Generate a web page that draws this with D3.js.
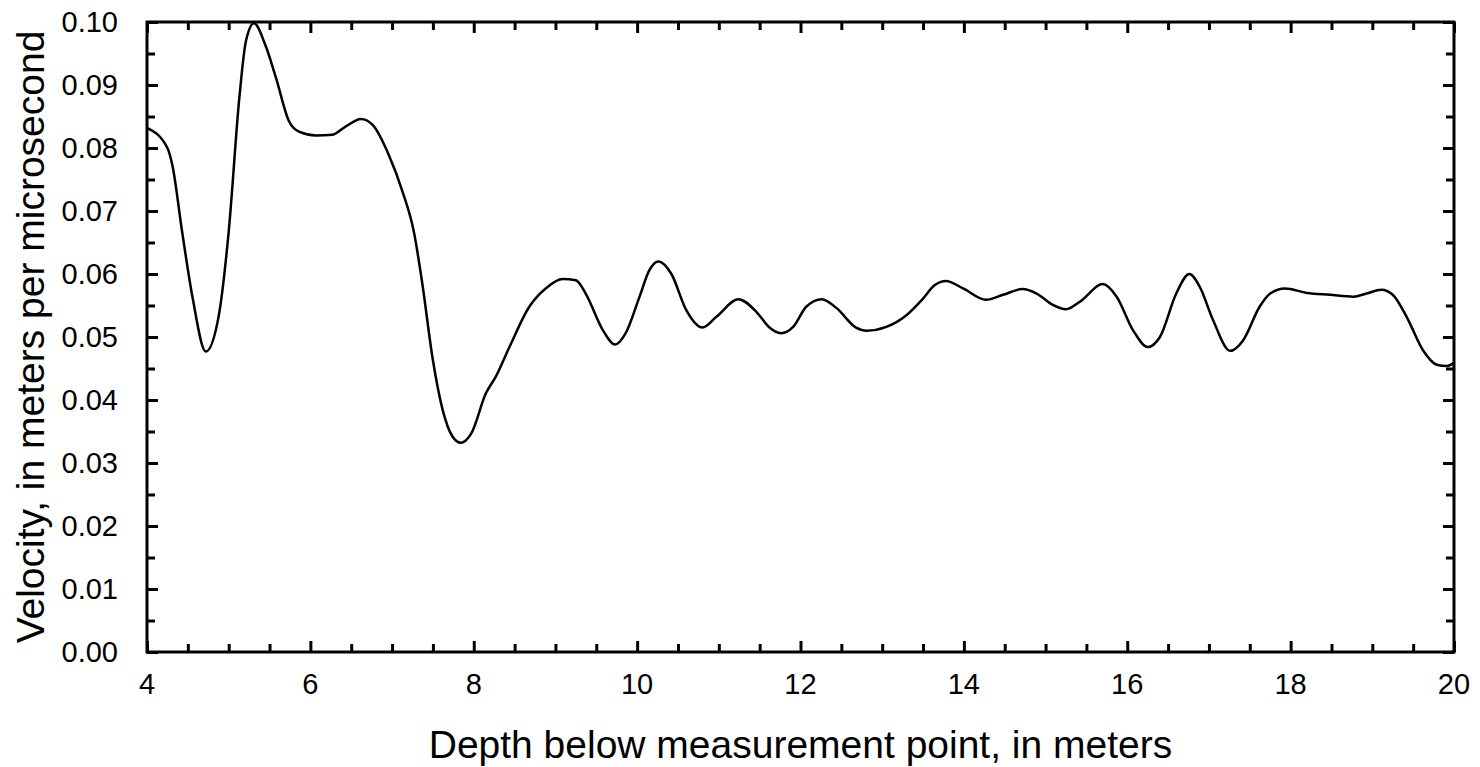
<!DOCTYPE html>
<html>
<head>
<meta charset="utf-8">
<script src="https://cdn.jsdelivr.net/npm/d3@7"></script>
<style>
  body { margin: 0; background: #fff; }
  text { font-family: "Liberation Sans", Arial, sans-serif; fill: #000; }
</style>
</head>
<body>
<script>

const svgWidth = 1480;
const svgHeight = 767;

const margin = {
    top: 22,
    right: 26,
    bottom: 115,
    left: 147
};

// Data
var depth = [4.00, 4.25, 4.31, 4.43, 4.56, 4.72, 4.88, 5.00, 5.13, 5.21, 5.31, 5.45,
    5.58, 5.74, 5.86, 6.07, 6.27, 6.43, 6.62, 6.76, 6.96, 7.13, 7.27, 7.37, 7.50,
    7.62, 7.74, 7.84, 7.97, 8.15, 8.27, 8.44, 8.68, 8.88, 9.09, 9.25, 9.37, 9.58,
    9.73, 9.86, 10.03, 10.15, 10.26, 10.42, 10.60, 10.80, 10.97, 11.24, 11.46,
    11.62, 11.76, 11.91, 12.07, 12.26, 12.44, 12.68, 12.81, 13.05, 13.30, 13.50,
    13.64, 13.78, 13.99, 14.27, 14.48, 14.72, 14.89, 15.09, 15.25, 15.42, 15.70,
    15.87, 16.07, 16.25, 16.40, 16.60, 16.76, 16.89, 17.05, 17.26, 17.42, 17.62,
    17.75, 17.93, 18.20, 18.48, 18.77, 18.93, 19.11, 19.25, 19.42, 19.62, 19.79,
    19.91, 20.00];
var velocity = [0.0832, 0.0800, 0.0773, 0.0667, 0.0561, 0.0477, 0.0535, 0.0667,
    0.0879, 0.0969, 0.0998, 0.0963, 0.0911, 0.0842, 0.0826, 0.0820, 0.0821, 0.0834,
    0.0846, 0.0837, 0.0789, 0.0730, 0.0665, 0.0585, 0.0463, 0.0384, 0.0342, 0.0332,
    0.0347, 0.0411, 0.0437, 0.0485, 0.0548, 0.0577, 0.0592, 0.0590, 0.0569, 0.0511,
    0.0488, 0.0506, 0.0564, 0.0606, 0.0620, 0.0600, 0.0543, 0.0515, 0.0532, 0.0560,
    0.0540, 0.0515, 0.0506, 0.0516, 0.0548, 0.0560, 0.0546, 0.0515, 0.0510, 0.0516,
    0.0535, 0.0561, 0.0582, 0.0589, 0.0577, 0.0559, 0.0567, 0.0576, 0.0569, 0.0551,
    0.0544, 0.0556, 0.0584, 0.0564, 0.0511, 0.0484, 0.0500, 0.0569, 0.0600, 0.0579,
    0.0527, 0.0478, 0.0495, 0.0548, 0.0569, 0.0577, 0.0570, 0.0567, 0.0564, 0.0569,
    0.0575, 0.0567, 0.0532, 0.0479, 0.0456, 0.0454, 0.0459];

var xTicks = [4, 6, 8, 10, 12, 14, 16, 18, 20];
var yTicks = [0.00, 0.01, 0.02, 0.03, 0.04, 0.05, 0.06, 0.07, 0.08, 0.09, 0.10];

const chartHeight = svgHeight - margin.top - margin.bottom;
const chartWidth = svgWidth - margin.left - margin.right;

const svg = d3.select("body")
    .append("svg")
    .attr("width", svgWidth)
    .attr("height", svgHeight);

const chartGroup = svg.append("g")
    .attr("transform", `translate(${margin.left}, ${margin.top})`);

const xScale = d3.scaleLinear()
    .domain([4, 20])
    .range([0, chartWidth]);

const yScale = d3.scaleLinear()
    .domain([0, 0.10])
    .range([chartHeight, 0]);

// minor ticks every half meter / every 0.005
const xMinor = d3.range(4, 20.01, 0.5).filter(d => d % 2 !== 0);
const yMinor = d3.range(0.005, 0.1, 0.01);

function tickAxis(axis, values, size) {
    return axis.tickValues(values).tickSize(size).tickFormat("");
}

// inward ticks on all four sides
chartGroup.append("g")
    .attr("transform", `translate(0, ${chartHeight})`)
    .call(tickAxis(d3.axisTop(xScale), xTicks, 11));
chartGroup.append("g")
    .attr("transform", `translate(0, ${chartHeight})`)
    .call(tickAxis(d3.axisTop(xScale), xMinor, 8));
chartGroup.append("g")
    .call(tickAxis(d3.axisBottom(xScale), xTicks, 11));
chartGroup.append("g")
    .call(tickAxis(d3.axisBottom(xScale), xMinor, 8));
chartGroup.append("g")
    .call(tickAxis(d3.axisRight(yScale), yTicks, 11));
chartGroup.append("g")
    .call(tickAxis(d3.axisRight(yScale), yMinor, 8));
chartGroup.append("g")
    .attr("transform", `translate(${chartWidth}, 0)`)
    .call(tickAxis(d3.axisLeft(yScale), yTicks, 11));
chartGroup.append("g")
    .attr("transform", `translate(${chartWidth}, 0)`)
    .call(tickAxis(d3.axisLeft(yScale), yMinor, 8));

chartGroup.selectAll(".domain").remove();
chartGroup.selectAll(".tick line")
    .attr("stroke", "#000")
    .attr("stroke-width", 3);

// tick labels
chartGroup.selectAll(".xlabel")
    .data(xTicks)
    .enter()
    .append("text")
    .attr("x", d => xScale(d))
    .attr("y", chartHeight + 42)
    .attr("text-anchor", "middle")
    .style("font-size", "29px")
    .text(d => d);

chartGroup.selectAll(".ylabel")
    .data(yTicks)
    .enter()
    .append("text")
    .attr("x", -29)
    .attr("y", d => yScale(d) + 10)
    .attr("text-anchor", "end")
    .style("font-size", "29px")
    .text(d => d3.format(".2f")(d));

// the velocity curve
const line = d3.line()
    .x((d, i) => xScale(depth[i]))
    .y(d => yScale(d))
    .curve(d3.curveMonotoneX);

chartGroup.append("path")
    .datum(velocity)
    .attr("d", line)
    .attr("fill", "none")
    .attr("stroke", "#000")
    .attr("stroke-width", 2.5);

// frame
chartGroup.append("rect")
    .attr("width", chartWidth)
    .attr("height", chartHeight)
    .attr("fill", "none")
    .attr("stroke", "#000")
    .attr("stroke-width", 3);

// axis titles
svg.append("text")
    .attr("x", margin.left + chartWidth / 2)
    .attr("y", svgHeight - 9)
    .attr("text-anchor", "middle")
    .style("font-size", "39px")
    .text("Depth below measurement point, in meters");

svg.append("text")
    .attr("transform", `translate(44, ${margin.top + chartHeight / 2}) rotate(-90)`)
    .attr("text-anchor", "middle")
    .style("font-size", "39px")
    .text("Velocity, in meters per microsecond");

</script>
</body>
</html>
